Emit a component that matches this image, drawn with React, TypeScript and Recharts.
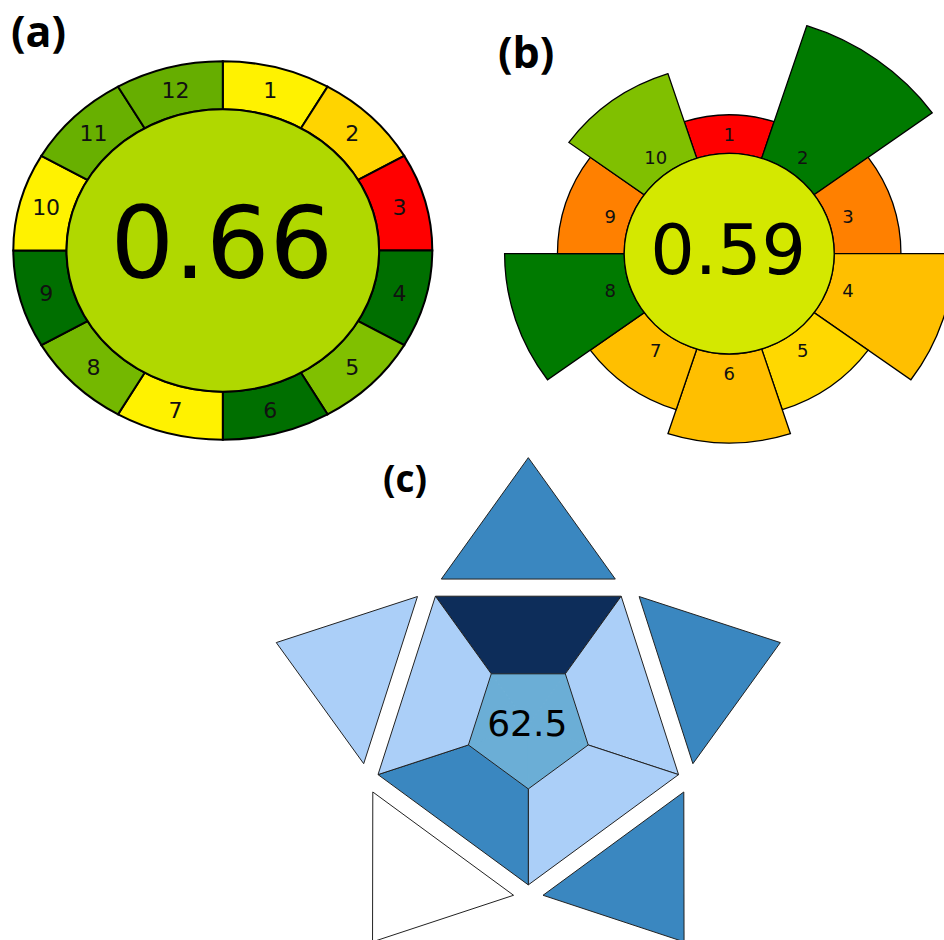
import React from 'react';
import { PieChart, Pie, Cell } from 'recharts';

// ---------- (a) 12-criteria pictogram ----------
const agreeCriteria = ['1', '2', '3', '4', '5', '6', '7', '8', '9', '10', '11', '12'];
const agreeShares = [1, 1, 1, 1, 1, 1, 1, 1, 1, 1, 1, 1];
const agreeColors = ['#fff200', '#ffd400', '#ff0000', '#006f00', '#80c000', '#006f00', '#fff200', '#74b800', '#006f00', '#fff200', '#68b000', '#66ae00'];
const agreeScore = '0.66';
const agreeCenterColor = '#b0d800';

// ---------- (b) 10-criteria pictogram with weights ----------
const prepCriteria = ['1', '2', '3', '4', '5', '6', '7', '8', '9', '10'];
const prepShares = [1, 1, 1, 1, 1, 1, 1, 1, 1, 1];
const prepWeights = [1, 5, 2, 4, 2, 3, 2, 4, 2, 3];
const prepColors = ['#ff0000', '#007a00', '#ff8000', '#ffbf00', '#ffd800', '#ffbf00', '#ffbf00', '#007a00', '#ff8000', '#80c000'];
const prepScore = '0.59';
const prepCenterColor = '#d4e800';

// ---------- (c) pentagon pictogram ----------
const blueParts = ['top', 'upper right', 'lower right', 'lower left', 'upper left'];
const blueShares = [1, 1, 1, 1, 1];
const blueInnerColors = ['#0d2d5a', '#abcff8', '#abcff8', '#3a87c0', '#abcff8'];
const blueOuterColors = ['#3a87c0', '#3a87c0', '#3a87c0', '#ffffff', '#abcff8'];
const blueScore = '62.5';
const blueCenterColor = '#6baed6';

const agreeRows = agreeCriteria.map((c, i) => ({ criterion: c, share: agreeShares[i] }));
const prepRows = prepCriteria.map((c, i) => ({ criterion: c, share: prepShares[i], weight: prepWeights[i] }));
const blueRows = blueParts.map((c, i) => ({ criterion: c, share: blueShares[i] }));
const centerRow = [{ criterion: 'score', share: 1 }];

const RAD = Math.PI / 180;
const pt = (cx: number, cy: number, r: number, a: number, ky: number) => [cx + r * Math.cos(a * RAD), cy - r * ky * Math.sin(a * RAD)];
const f = (p: number[]) => `${p[0].toFixed(2)},${p[1].toFixed(2)}`;

function ringPath(cx: number, cy: number, r0: number, r1: number, a0: number, a1: number, ky: number) {
  const sweep = a0 > a1 ? 1 : 0;
  const large = Math.abs(a1 - a0) > 180 ? 1 : 0;
  const p0 = pt(cx, cy, r1, a0, ky);
  const p1 = pt(cx, cy, r1, a1, ky);
  const p2 = pt(cx, cy, r0, a1, ky);
  const p3 = pt(cx, cy, r0, a0, ky);
  return `M${f(p0)} A${r1},${r1 * ky} 0 ${large} ${sweep} ${f(p1)} L${f(p2)} A${r0},${r0 * ky} 0 ${large} ${1 - sweep} ${f(p3)} Z`;
}

const KY_A = 0.903;
const KY_B = 0.955;
const KY_C = 1.01;

const agreeShape = (p: any) => (
  <path d={ringPath(p.cx, p.cy, p.innerRadius, p.outerRadius, p.startAngle, p.endAngle, KY_A)} fill={p.fill} stroke="#000" strokeWidth={2} />
);

const prepShape = (p: any) => {
  const w = p.payload && p.payload.weight != null ? p.payload.weight : p.weight;
  const r1 = (p.outerRadius * (4.5 + w)) / 9.5;
  return <path d={ringPath(p.cx, p.cy, p.innerRadius, r1, p.startAngle, p.endAngle, KY_B)} fill={p.fill} stroke="#000" strokeWidth={1.3} />;
};

const ellipseShape = (ky: number, sw: number) => (p: any) => (
  <ellipse cx={p.cx} cy={p.cy} rx={p.outerRadius} ry={p.outerRadius * ky} fill={p.fill} stroke="#000" strokeWidth={sw} />
);

const pentaCoreShape = (p: any) => {
  const a = pt(p.cx, p.cy, p.outerRadius, p.startAngle, KY_C);
  const b = pt(p.cx, p.cy, p.outerRadius, p.endAngle, KY_C);
  return <polygon points={`${f([p.cx, p.cy])} ${f(a)} ${f(b)}`} fill={p.fill} stroke={p.fill} strokeWidth={1} />;
};

const trapShape = (p: any) => {
  const pts = [
    pt(p.cx, p.cy, p.outerRadius, p.startAngle, KY_C),
    pt(p.cx, p.cy, p.outerRadius, p.endAngle, KY_C),
    pt(p.cx, p.cy, p.innerRadius, p.endAngle, KY_C),
    pt(p.cx, p.cy, p.innerRadius, p.startAngle, KY_C),
  ];
  return <polygon points={pts.map(f).join(' ')} fill={p.fill} stroke="#222" strokeWidth={1} strokeLinejoin="miter" />;
};

const triShape = (p: any) => {
  const half = Math.abs(p.endAngle - p.startAngle) / 2;
  const mid = (p.startAngle + p.endAngle) / 2;
  const rb = p.innerRadius / Math.cos(half * RAD);
  const pts = [
    pt(p.cx, p.cy, rb, p.startAngle, KY_C),
    pt(p.cx, p.cy, p.outerRadius, mid, KY_C),
    pt(p.cx, p.cy, rb, p.endAngle, KY_C),
  ];
  return <polygon points={pts.map(f).join(' ')} fill={p.fill} stroke="#222" strokeWidth={1} strokeLinejoin="miter" />;
};

const ringLabel = (ky: number, rFixed: number | null, size: number) => (p: any) => {
  const r = rFixed != null ? rFixed : (p.innerRadius + p.outerRadius) / 2;
  const [x, y] = pt(p.cx, p.cy, r, p.midAngle, ky);
  return (
    <text x={x} y={y} textAnchor="middle" dominantBaseline="central" fontFamily="DejaVu Sans" fontSize={size} fill="#111">
      {p.name}
    </text>
  );
};

const centerText = (value: string, size: number, dy: number, dx: number) => (p: any) =>
  p.index === 0 ? (
    <text x={p.cx + dx} y={p.cy + dy} textAnchor="middle" fontFamily="DejaVu Sans" fontSize={size} fill="#000">
      {value}
    </text>
  ) : null;

export default function App() {
  return (
    <div style={{ position: 'absolute', left: 0, top: 0, width: 944, height: 940, overflow: 'hidden', background: '#fff' }}>
      <PieChart width={944} height={940} margin={{ top: 0, right: 0, bottom: 0, left: 0 }}>
        {/* (a) */}
        <Pie
          data={agreeRows}
          dataKey="share"
          nameKey="criterion"
          cx={222.8}
          cy={250.5}
          innerRadius={156.3}
          outerRadius={209.5}
          startAngle={90}
          endAngle={-270}
          isAnimationActive={false}
          shape={agreeShape}
          inactiveShape={agreeShape}
          activeShape={agreeShape}
          label={ringLabel(KY_A, null, 22)}
          labelLine={false}
          stroke="#000"
        >
          {agreeRows.map((r, i) => (
            <Cell key={r.criterion} fill={agreeColors[i]} />
          ))}
        </Pie>
        <Pie
          data={centerRow}
          dataKey="share"
          nameKey="criterion"
          cx={222.8}
          cy={250.5}
          innerRadius={0}
          outerRadius={156.3}
          isAnimationActive={false}
          shape={ellipseShape(KY_A, 2)}
          inactiveShape={ellipseShape(KY_A, 2)}
          activeShape={ellipseShape(KY_A, 2)}
          label={centerText(agreeScore, 100, 27, -1)}
          labelLine={false}
        >
          <Cell fill={agreeCenterColor} />
        </Pie>

        {/* (b) */}
        <Pie
          data={prepRows}
          dataKey="share"
          nameKey="criterion"
          cx={729.2}
          cy={253.7}
          innerRadius={105}
          outerRadius={251}
          startAngle={108}
          endAngle={-252}
          isAnimationActive={false}
          shape={prepShape}
          inactiveShape={prepShape}
          activeShape={prepShape}
          label={ringLabel(KY_B, 125, 18)}
          labelLine={false}
        >
          {prepRows.map((r, i) => (
            <Cell key={r.criterion} fill={prepColors[i]} />
          ))}
        </Pie>
        <Pie
          data={centerRow}
          dataKey="share"
          nameKey="criterion"
          cx={729.2}
          cy={253.7}
          innerRadius={0}
          outerRadius={105}
          isAnimationActive={false}
          shape={ellipseShape(KY_B, 1.3)}
          inactiveShape={ellipseShape(KY_B, 1.3)}
          activeShape={ellipseShape(KY_B, 1.3)}
          label={centerText(prepScore, 70, 20, -1)}
          labelLine={false}
        >
          <Cell fill={prepCenterColor} />
        </Pie>

        {/* (c) */}
        <Pie
          data={blueRows}
          dataKey="share"
          nameKey="criterion"
          cx={528.3}
          cy={725.3}
          innerRadius={0}
          outerRadius={63}
          startAngle={126}
          endAngle={-234}
          isAnimationActive={false}
          shape={pentaCoreShape}
          inactiveShape={pentaCoreShape}
          activeShape={pentaCoreShape}
          label={false}
        >
          {blueRows.map((r) => (
            <Cell key={r.criterion} fill={blueCenterColor} />
          ))}
        </Pie>
        <Pie
          data={blueRows}
          dataKey="share"
          nameKey="criterion"
          cx={528.3}
          cy={725.3}
          innerRadius={63}
          outerRadius={158}
          startAngle={126}
          endAngle={-234}
          isAnimationActive={false}
          shape={trapShape}
          inactiveShape={trapShape}
          activeShape={trapShape}
          label={centerText(blueScore, 36, 10.5, -1)}
          labelLine={false}
        >
          {blueRows.map((r, i) => (
            <Cell key={r.criterion} fill={blueInnerColors[i]} />
          ))}
        </Pie>
        <Pie
          data={blueRows}
          dataKey="share"
          nameKey="criterion"
          cx={528.3}
          cy={725.3}
          innerRadius={144.8}
          outerRadius={265}
          startAngle={121}
          endAngle={-239}
          paddingAngle={10}
          isAnimationActive={false}
          shape={triShape}
          inactiveShape={triShape}
          activeShape={triShape}
          label={false}
        >
          {blueRows.map((r, i) => (
            <Cell key={r.criterion} fill={blueOuterColors[i]} />
          ))}
        </Pie>
      </PieChart>
      <svg width={944} height={940} style={{ position: 'absolute', left: 0, top: 0, pointerEvents: 'none' }}>
        <text x={11} y={47} fontFamily="Open Sans" fontWeight="bold" fontSize={43} fill="#000">(a)</text>
        <text x={498} y={68} fontFamily="Open Sans" fontWeight="bold" fontSize={43} fill="#000">(b)</text>
        <text x={383} y={492} fontFamily="Open Sans" fontWeight="bold" fontSize={37} fill="#000">(c)</text>
      </svg>
    </div>
  );
}
